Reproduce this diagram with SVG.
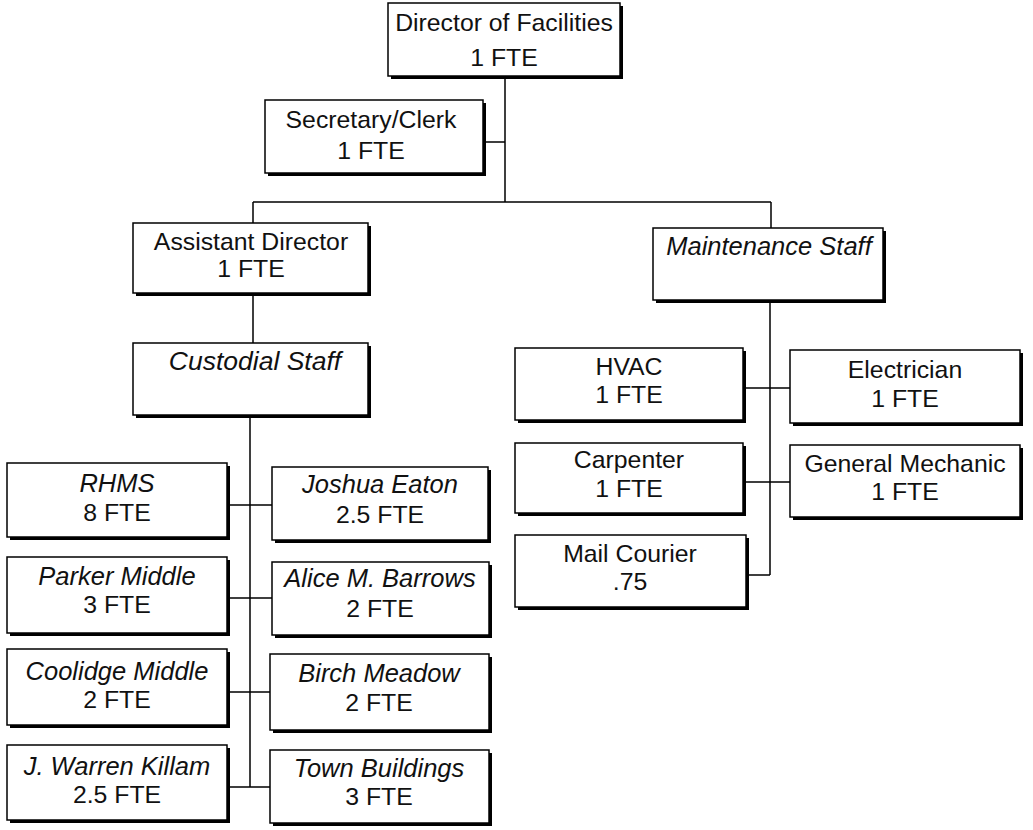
<svg xmlns="http://www.w3.org/2000/svg" width="1033" height="830" viewBox="0 0 1033 830">
<style>
.sh{fill:#000}
.bx{fill:#fff;stroke:#000;stroke-width:1.5}
text{font-family:"Liberation Sans",Arial,sans-serif;font-size:24.8px;fill:#111;text-anchor:middle}
.it{font-style:italic;font-size:25.5px}
.ln{stroke:#000;stroke-width:1.5;fill:none}
</style>
<rect width="1033" height="830" fill="#fff"/>
<g id="connectors">
<path class="ln" d="M505,76V202 M483,142H505 M253,202H771 M253,202V223 M253,293V343 M771,202V228 M770,300V575 M743,388H790 M743,482H790 M746,575H770 M250,415V787 M227,505H272 M227,598H272 M227,692H270 M227,787H270"/>
</g>
<g id="director"><rect class="sh" x="391" y="6" width="232" height="73"/><rect class="bx" x="388" y="3" width="232" height="73"/><text x="504" y="31">Director of Facilities</text><text x="504" y="66">1 FTE</text></g>
<g id="secretary"><rect class="sh" x="268" y="103" width="218" height="73"/><rect class="bx" x="265" y="100" width="218" height="73"/><text x="371" y="128">Secretary/Clerk</text><text x="371" y="159">1 FTE</text></g>
<g id="assistant"><rect class="sh" x="136" y="226" width="235" height="70"/><rect class="bx" x="133" y="223" width="235" height="70"/><text x="251" y="250">Assistant Director</text><text x="251" y="277">1 FTE</text></g>
<g id="custodial"><rect class="sh" x="136" y="346" width="235" height="72"/><rect class="bx" x="133" y="343" width="235" height="72"/><text class="it" x="255" y="370" style="font-size:26.5px">Custodial Staff</text></g>
<g id="maintenance"><rect class="sh" x="656" y="231" width="230" height="72"/><rect class="bx" x="653" y="228" width="230" height="72"/><text class="it" x="769" y="255">Maintenance Staff</text></g>
<g id="hvac"><rect class="sh" x="518" y="351" width="228" height="72"/><rect class="bx" x="515" y="348" width="228" height="72"/><text x="629" y="375">HVAC</text><text x="629" y="403">1 FTE</text></g>
<g id="electrician"><rect class="sh" x="793" y="353" width="230" height="73"/><rect class="bx" x="790" y="350" width="230" height="73"/><text x="905" y="378">Electrician</text><text x="905" y="407">1 FTE</text></g>
<g id="carpenter"><rect class="sh" x="518" y="446" width="228" height="70"/><rect class="bx" x="515" y="443" width="228" height="70"/><text x="629" y="468">Carpenter</text><text x="629" y="497">1 FTE</text></g>
<g id="mechanic"><rect class="sh" x="793" y="448" width="230" height="72"/><rect class="bx" x="790" y="445" width="230" height="72"/><text x="905" y="472">General Mechanic</text><text x="905" y="500">1 FTE</text></g>
<g id="mail"><rect class="sh" x="518" y="538" width="231" height="72"/><rect class="bx" x="515" y="535" width="231" height="72"/><text x="630" y="562">Mail Courier</text><text x="630" y="590">.75</text></g>
<g id="rhms"><rect class="sh" x="10" y="466" width="220" height="74"/><rect class="bx" x="7" y="463" width="220" height="74"/><text class="it" x="117" y="492">RHMS</text><text x="117" y="521">8 FTE</text></g>
<g id="joshua"><rect class="sh" x="275" y="470" width="216" height="73"/><rect class="bx" x="272" y="467" width="216" height="73"/><text class="it" x="380" y="493">Joshua Eaton</text><text x="380" y="523">2.5 FTE</text></g>
<g id="parker"><rect class="sh" x="10" y="560" width="220" height="76"/><rect class="bx" x="7" y="557" width="220" height="76"/><text class="it" x="117" y="585">Parker Middle</text><text x="117" y="613">3 FTE</text></g>
<g id="alice"><rect class="sh" x="275" y="565" width="217" height="73"/><rect class="bx" x="272" y="562" width="217" height="73"/><text class="it" x="380" y="587">Alice M. Barrows</text><text x="380" y="617">2 FTE</text></g>
<g id="coolidge"><rect class="sh" x="10" y="652" width="220" height="76"/><rect class="bx" x="7" y="649" width="220" height="76"/><text class="it" x="117" y="680">Coolidge Middle</text><text x="117" y="708">2 FTE</text></g>
<g id="birch"><rect class="sh" x="273" y="657" width="219" height="76"/><rect class="bx" x="270" y="654" width="219" height="76"/><text class="it" x="379" y="682">Birch Meadow</text><text x="379" y="711">2 FTE</text></g>
<g id="killam"><rect class="sh" x="10" y="748" width="220" height="75"/><rect class="bx" x="7" y="745" width="220" height="75"/><text class="it" x="117" y="775">J. Warren Killam</text><text x="117" y="803">2.5 FTE</text></g>
<g id="town"><rect class="sh" x="273" y="753" width="219" height="73"/><rect class="bx" x="270" y="750" width="219" height="73"/><text class="it" x="379" y="777">Town Buildings</text><text x="379" y="805">3 FTE</text></g>
</svg>
